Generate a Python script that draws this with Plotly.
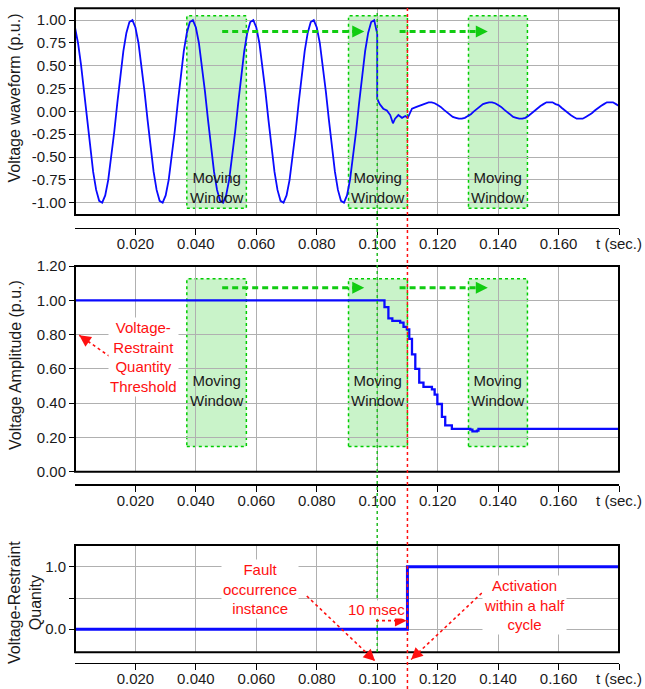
import plotly.graph_objects as go

W, H = 645, 689

# ---------------- DATA ----------------
# Voltage waveform (p.u.), pre-fault samples every 1 ms from t = 0.000 s to 0.099 s
wave_pre_v = [
    0.92, 0.75, 0.51, 0.22, -0.09, -0.40, -0.66, -0.86, -0.98, -1.00,
    -0.92, -0.75, -0.51, -0.22, 0.09, 0.40, 0.66, 0.86, 0.98, 1.00,
    0.92, 0.75, 0.51, 0.22, -0.09, -0.40, -0.66, -0.86, -0.98, -1.00,
    -0.92, -0.75, -0.51, -0.22, 0.09, 0.40, 0.66, 0.86, 0.98, 1.00,
    0.92, 0.75, 0.51, 0.22, -0.09, -0.40, -0.66, -0.86, -0.98, -1.00,
    -0.92, -0.75, -0.51, -0.22, 0.09, 0.40, 0.66, 0.86, 0.98, 1.00,
    0.92, 0.75, 0.51, 0.22, -0.09, -0.40, -0.66, -0.86, -0.98, -1.00,
    -0.92, -0.75, -0.51, -0.22, 0.09, 0.40, 0.66, 0.86, 0.98, 1.00,
    0.92, 0.75, 0.51, 0.22, -0.09, -0.40, -0.66, -0.86, -0.98, -1.00,
    -0.92, -0.75, -0.51, -0.22, 0.09, 0.40, 0.66, 0.86, 0.98, 1.00,
]
wave_pre_t0 = 0.000
wave_step = 0.001

# Fault transient (irregular samples)
wave_fault_t = [0.1000, 0.1000, 0.1008, 0.1020, 0.1032, 0.1043, 0.1052, 0.1059,
                0.1070, 0.1082, 0.1093, 0.1101, 0.1108, 0.1115, 0.1130, 0.1142]
wave_fault_v = [0.85, 0.14, 0.08, 0.03, 0.01, -0.04, -0.13, -0.08,
                -0.04, -0.07, -0.05, -0.07, -0.02, 0.03, 0.05, 0.065]

# Post-fault samples every 1 ms from t = 0.115 s to 0.180 s
wave_post_t0 = 0.115
wave_post_v = [
    0.07, 0.09, 0.10, 0.10, 0.09, 0.07, 0.05, 0.02, -0.01, -0.03,
    -0.06, -0.07, -0.08, -0.08, -0.07, -0.05, -0.03, 0.00, 0.03, 0.06,
    0.08, 0.09, 0.10, 0.10, 0.09, 0.07, 0.05, 0.02, -0.01, -0.04,
    -0.06, -0.07, -0.08, -0.08, -0.07, -0.05, -0.02, 0.01, 0.03, 0.06,
    0.08, 0.10, 0.10, 0.10, 0.08, 0.07, 0.04, 0.01, -0.02, -0.04,
    -0.06, -0.08, -0.08, -0.08, -0.06, -0.04, -0.02, 0.01, 0.04, 0.06,
    0.08, 0.10, 0.10, 0.10, 0.08, 0.06,
]

# Voltage amplitude (p.u.) - staircase
amp_t = [0.0, 0.1024, 0.1037, 0.1050, 0.1076, 0.1087, 0.1098, 0.1106, 0.1115, 0.1126,
         0.1139, 0.1153, 0.1181, 0.1190, 0.1199, 0.1214, 0.1225, 0.1247, 0.1308, 0.1315,
         0.1330, 0.1335, 0.1800]
amp_v = [1.00, 0.96, 0.895, 0.88, 0.87, 0.845, 0.83, 0.775, 0.685, 0.60,
         0.52, 0.495, 0.48, 0.45, 0.395, 0.32, 0.27, 0.25, 0.245, 0.235,
         0.24, 0.25, 0.25]

# Voltage-restraint quantity
rq_t = [0.0, 0.110, 0.180]
rq_v = [0.0, 1.0, 1.0]

# Ticks
x_tickvals = [0.02, 0.04, 0.06, 0.08, 0.10, 0.12, 0.14, 0.16, 0.18]
x_ticktext = ["0.020", "0.040", "0.060", "0.080", "0.100", "0.120", "0.140", "0.160", "t (sec.)"]
y1_tickvals = [-1.0, -0.75, -0.5, -0.25, 0.0, 0.25, 0.5, 0.75, 1.0]
y1_ticktext = ["-1.00", "-0.75", "-0.50", "-0.25", "0.00", "0.25", "0.50", "0.75", "1.00"]
y2_tickvals = [0.0, 0.2, 0.4, 0.6, 0.8, 1.0, 1.2]
y2_ticktext = ["0.00", "0.20", "0.40", "0.60", "0.80", "1.00", "1.20"]
y3_tickvals = [0.0, 0.5, 1.0]
y3_ticktext = ["0.0", "", "1.0"]

# Moving windows (time spans) and their vertical extents per panel
windows = [(0.0370, 0.0567), (0.0905, 0.1100), (0.1302, 0.1497)]
win_y1 = (-1.06, 1.047)
win_y2 = (0.147, 1.125)
win_label_y1 = -0.835
win_label_y2 = 0.474

# Green "moving" arrows: (start t, tip t)
green_arrows = [(0.0487, 0.0957), (0.1074, 0.1366)]
green_arrow_y1 = 0.876
green_arrow_y2 = 1.073

fault_t = 0.100
activation_t = 0.110

# ---------------- LAYOUT GEOMETRY ----------------
FONT = "Liberation Sans, Arial, sans-serif"
XDOM = [75 / W, 619 / W]
XR = [0.0, 0.18]
PANELS = {
    1: dict(dom=[1 - 215 / H, 1 - 8.3 / H], rng=[-1.135, 1.13], axpos=1 - 227.5 / H),
    2: dict(dom=[1 - 471.7 / H, 1 - 266 / H], rng=[0.0, 1.2], axpos=1 - 484 / H),
    3: dict(dom=[1 - 652.3 / H, 1 - 545 / H], rng=[-0.37, 1.35], axpos=1 - 662.7 / H),
}


def xpaper(t):
    return XDOM[0] + (t - XR[0]) / (XR[1] - XR[0]) * (XDOM[1] - XDOM[0])


def ypaper(v, p):
    d, r = PANELS[p]["dom"], PANELS[p]["rng"]
    return d[0] + (v - r[0]) / (r[1] - r[0]) * (d[1] - d[0])


def to_px(t, v, p):
    return xpaper(t) * W, (1 - ypaper(v, p)) * H


BLUE = "#0a0aff"
GREEN = "#11cc11"
RED = "#ff1010"
GRID = "#b0b0b0"

fig = go.Figure()

wave_t = [wave_pre_t0 + i * wave_step for i in range(len(wave_pre_v))] + wave_fault_t + \
         [wave_post_t0 + i * wave_step for i in range(len(wave_post_v))]
wave_v = wave_pre_v + wave_fault_v + wave_post_v

fig.add_trace(go.Scatter(x=wave_t, y=wave_v, mode="lines", xaxis="x", yaxis="y",
                         line=dict(color=BLUE, width=1.8), hoverinfo="skip"))
fig.add_trace(go.Scatter(x=amp_t, y=amp_v, mode="lines", xaxis="x2", yaxis="y2",
                         line=dict(color=BLUE, width=2.3, shape="hv"), hoverinfo="skip"))
fig.add_trace(go.Scatter(x=rq_t, y=rq_v, mode="lines", xaxis="x3", yaxis="y3",
                         line=dict(color=BLUE, width=3, shape="hv"), hoverinfo="skip"))

tickfont = dict(family=FONT, size=15, color="#1a1a1a")
ytick = {1: (y1_tickvals, y1_ticktext), 2: (y2_tickvals, y2_ticktext), 3: (y3_tickvals, y3_ticktext)}

layout = dict(
    width=W, height=H, margin=dict(l=0, r=0, t=0, b=0, autoexpand=False),
    paper_bgcolor="white", plot_bgcolor="white", showlegend=False,
    font=dict(family=FONT, size=15, color="#1a1a1a"),
)
for p in (1, 2, 3):
    sfx = "" if p == 1 else str(p)
    layout["xaxis" + sfx] = dict(
        domain=XDOM, range=XR, anchor="free", position=PANELS[p]["axpos"],
        showline=True, linecolor="black", linewidth=1.5,
        ticks="outside", ticklen=6, tickwidth=1, tickcolor="black",
        ticklabelstandoff=-4,
        tickvals=x_tickvals, ticktext=x_ticktext, tickfont=tickfont,
        showgrid=True, gridcolor=GRID, gridwidth=1, zeroline=False, fixedrange=True,
        automargin=False,
    )
    layout["yaxis" + sfx] = dict(
        domain=PANELS[p]["dom"], range=PANELS[p]["rng"], anchor="x" + sfx,
        showline=False, ticks="outside", ticklen=5, tickwidth=1, tickcolor="black",
        tickvals=ytick[p][0], ticktext=ytick[p][1], tickfont=tickfont,
        showgrid=True, gridcolor=GRID, gridwidth=1, zeroline=False, fixedrange=True,
        automargin=False,
    )
fig.update_layout(**layout)

shapes = []
annotations = []

# Frames
for p in (1, 2, 3):
    sfx = "" if p == 1 else str(p)
    shapes.append(dict(type="rect", xref="x%s domain" % sfx, yref="y%s domain" % sfx,
                       x0=0, x1=1, y0=0, y1=1, line=dict(color="black", width=2),
                       layer="above"))

# Moving windows
for p, wy, ly in ((1, win_y1, win_label_y1), (2, win_y2, win_label_y2)):
    sfx = "" if p == 1 else str(p)
    for (a, b) in windows:
        shapes.append(dict(type="rect", xref="x" + sfx, yref="y" + sfx,
                           x0=a, x1=b, y0=wy[0], y1=wy[1],
                           fillcolor="rgba(0,200,0,0.21)",
                           line=dict(color="#00cc00", width=1.5, dash="dot"), layer="below"))
        annotations.append(dict(x=(a + b) / 2, y=ly, xref="x" + sfx, yref="y" + sfx,
                                text="Moving<br>Window", showarrow=False,
                                xanchor="center", yanchor="middle",
                                font=dict(family=FONT, size=15, color="#1a1a1a")))

# Green dashed arrows
for p, gy in ((1, green_arrow_y1), (2, green_arrow_y2)):
    sfx = "" if p == 1 else str(p)
    for (s, e) in green_arrows:
        shapes.append(dict(type="line", xref="x" + sfx, yref="y" + sfx,
                           x0=s, x1=e - 0.003, y0=gy, y1=gy,
                           line=dict(color=GREEN, width=2.8, dash="6px,4px"), layer="above"))
        annotations.append(dict(x=e, y=gy, xref="x" + sfx, yref="y" + sfx, text="",
                                showarrow=True, ax=-10, ay=0, arrowhead=2,
                                arrowwidth=2.4, arrowsize=1.0, arrowcolor=GREEN, standoff=0))

# Vertical event lines
shapes.append(dict(type="line", xref="x", yref="paper", x0=fault_t, x1=fault_t,
                   y0=1 - 652 / H, y1=1 - 12 / H,
                   line=dict(color="#22bb22", width=1.5, dash="dot"), layer="above"))
shapes.append(dict(type="line", xref="x", yref="paper", x0=activation_t, x1=activation_t,
                   y0=0, y1=1 - 8 / H,
                   line=dict(color=RED, width=1.5, dash="dot"), layer="above"))

# Red dotted arrows: (tail t, tail v, tip t, tip v, panel)
red_arrows = [
    (0.0116, 0.671, 0.0014, 0.796, 2),
    (0.0767, 0.532, 0.0993, -0.51, 3),
    (0.1346, 0.580, 0.1112, -0.486, 3),
    (0.0996, 0.137, 0.1097, 0.137, 3),
]
for (t0, v0, t1, v1, p) in red_arrows:
    shapes.append(dict(type="line", xref="x", yref="paper",
                       x0=t0, x1=t1, y0=ypaper(v0, p), y1=ypaper(v1, p),
                       line=dict(color=RED, width=1.6, dash="dot"), layer="above"))
    x0p, y0p = to_px(t0, v0, p)
    x1p, y1p = to_px(t1, v1, p)
    dx, dy = x1p - x0p, y1p - y0p
    n = (dx * dx + dy * dy) ** 0.5
    annotations.append(dict(x=t1, y=ypaper(v1, p), xref="x", yref="paper", text="",
                            showarrow=True, ax=-dx / n * 9, ay=-dy / n * 9,
                            arrowhead=2, arrowwidth=1.6, arrowsize=1.45,
                            arrowcolor=RED, standoff=0))

# Red texts
red_font = dict(family=FONT, size=15, color=RED)
annotations += [
    dict(x=0.0226, y=0.67, xref="x2", yref="y2", showarrow=False, bgcolor="white",
         xanchor="center", yanchor="middle",
         text="Voltage-<br>Restraint<br>Quantity<br>Threshold", font=red_font),
    dict(x=0.0612, y=0.645, xref="x3", yref="y3", showarrow=False, bgcolor="white",
         xanchor="center", yanchor="middle",
         text="Fault<br>occurrence<br>instance", font=red_font),
    dict(x=0.1486, y=0.388, xref="x3", yref="y3", showarrow=False, bgcolor="white",
         xanchor="center", yanchor="middle",
         text="Activation<br>within a half<br>cycle", font=red_font),
    dict(x=0.0998, y=0.324, xref="x3", yref="y3", showarrow=False, bgcolor="white",
         xanchor="center", yanchor="middle",
         text="10 msec", font=red_font, borderpad=0),
]

# Y-axis titles
title_font = dict(family=FONT, size=16, color="#1a1a1a")
annotations += [
    dict(x=14.5 / W, y=1 - 98 / H, xref="paper", yref="paper", showarrow=False,
         xanchor="center", yanchor="middle",
         text="Voltage waveform (p.u.)", textangle=-90, font=title_font),
    dict(x=15 / W, y=1 - 365 / H, xref="paper", yref="paper", showarrow=False,
         xanchor="center", yanchor="middle",
         text="Voltage Amplitude (p.u.)", textangle=-90, font=title_font),
    dict(x=25 / W, y=1 - 603 / H, xref="paper", yref="paper", showarrow=False,
         xanchor="center", yanchor="middle",
         text="Voltage-Restraint<br>Quanity", textangle=-90, font=title_font),
]

fig.update_layout(shapes=shapes, annotations=annotations)

page_fix = ("document.body.style.margin='0px';"
            "document.body.style.overflow='hidden';"
            "var d=document.getElementById('{plot_id}');"
            "d.style.position='fixed';d.style.left='0px';d.style.top='0px';")
fig.write_html("out.html", post_script=page_fix,
               config={"displayModeBar": False, "staticPlot": True})
